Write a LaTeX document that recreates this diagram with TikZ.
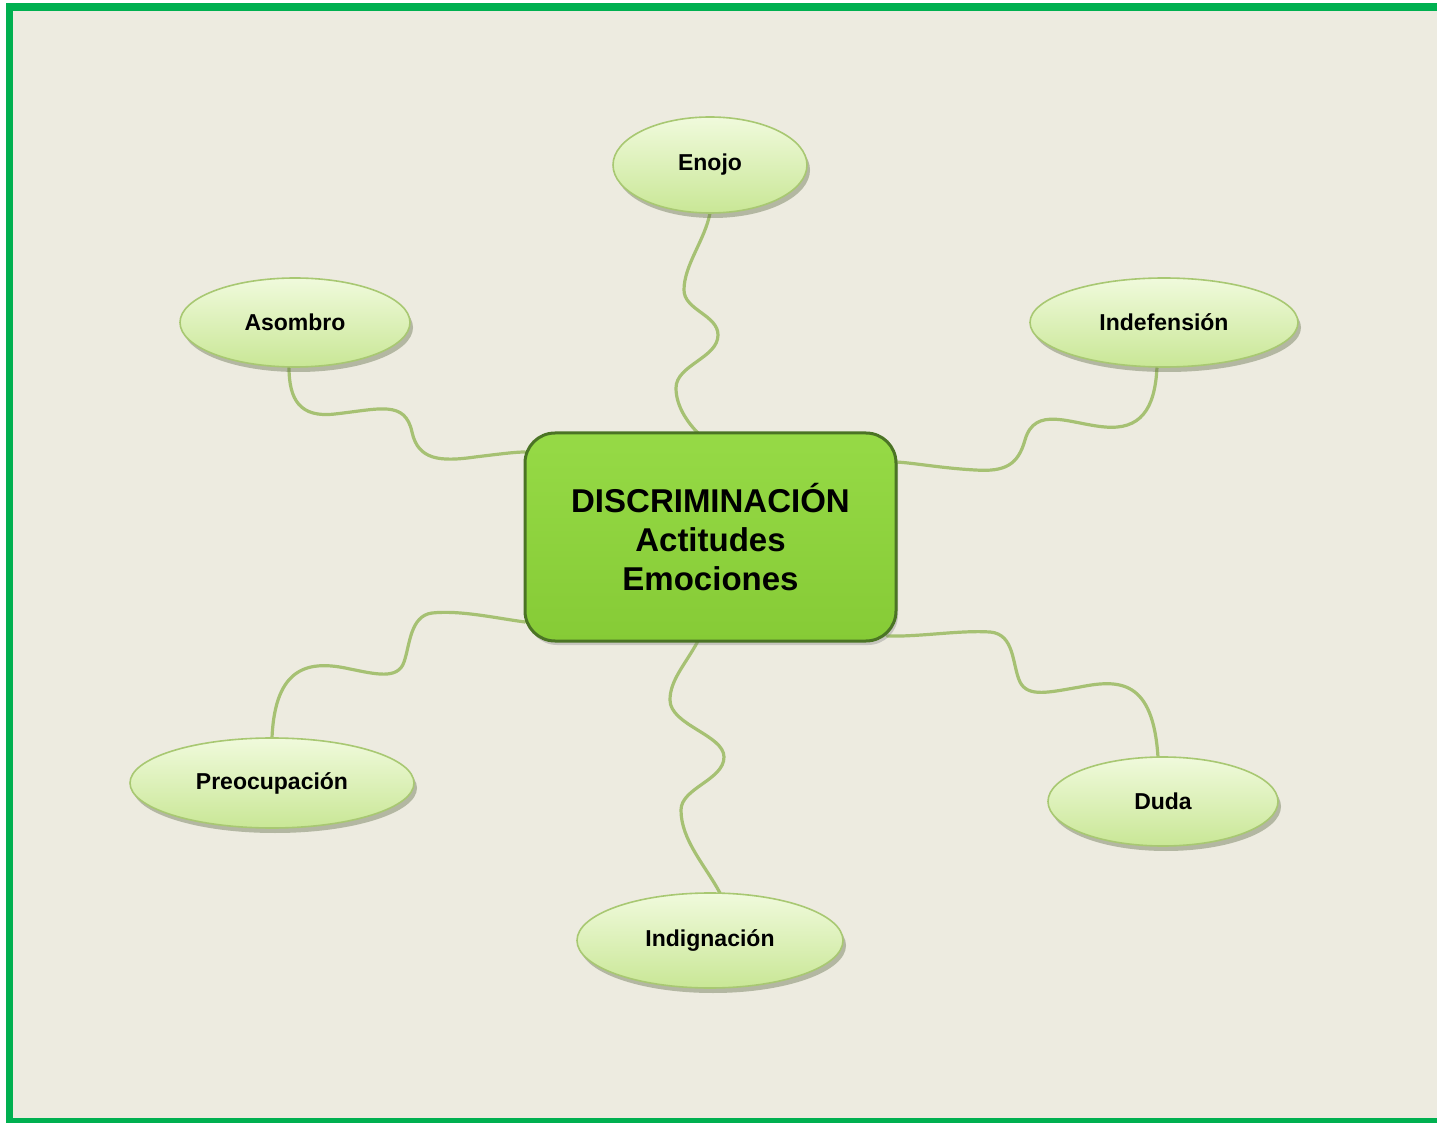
\documentclass[tikz,border=0pt]{standalone}
\usepackage{fontspec}
\setmainfont{Liberation Sans}
\usetikzlibrary{shapes.geometric,shadows}

\definecolor{framegreen}{HTML}{00B050}
\definecolor{paper}{HTML}{EDEBE0}
\definecolor{hubtop}{HTML}{96DA46}
\definecolor{hubbot}{HTML}{86CB36}
\definecolor{hubline}{HTML}{4B7425}
\definecolor{leafline}{HTML}{A8C872}
\definecolor{leaftop}{HTML}{F0FADC}
\definecolor{leafbot}{HTML}{C9E796}
\definecolor{wirecol}{HTML}{A6C173}
\definecolor{shadecol}{HTML}{5E6B45}

\pgfdeclarelayer{back}
\pgfdeclarelayer{wires}
\pgfsetlayers{back,wires,main}

\tikzset{
  hub/.style={rectangle, rounded corners=15pt, draw=hubline, line width=1.5pt,
    top color=hubtop, bottom color=hubbot, align=center, inner sep=0pt, outer sep=0pt,
    minimum width=185.5pt, minimum height=104pt,
    font=\fontsize{16.5}{19.5}\selectfont\bfseries,
    drop shadow={opacity=0.35, shadow xshift=1pt, shadow yshift=-2pt}},
  leaf/.style={ellipse, draw=leafline, line width=0.8pt,
    top color=leaftop, bottom color=leafbot, inner sep=0pt, outer sep=0pt,
    font=\fontsize{11.5}{13}\selectfont\bfseries,
    drop shadow={opacity=0.4, fill=shadecol, shadow xshift=1.5pt, shadow yshift=-2.5pt}},
  wire/.style={draw=wirecol, line width=1.6pt, line cap=round}
}

\begin{document}
\begin{tikzpicture}[x=0.5pt,y=-0.5pt]
\useasboundingbox (0,0) rectangle (1437,1123);

\begin{pgfonlayer}{back}
\fill[white] (0,0) rectangle (1437,1123);
\fill[framegreen] (6,3) rectangle (1437,1123);
\fill[paper] (13,11) rectangle (1437,1118);
\end{pgfonlayer}

% centre
\node[hub] (hub) at (710.5,537) {DISCRIMINACIÓN\\Actitudes\\Emociones};

% emotions
\node[leaf, minimum width=97pt, minimum height=48pt] (enojo) at (710,165) {Enojo};
\node[leaf, minimum width=115pt, minimum height=44.5pt] (asombro) at (295,322.5) {Asombro};
\node[leaf, minimum width=134pt, minimum height=44.5pt] (indef) at (1164,322.5) {Indefensión};
\node[leaf, minimum width=142pt, minimum height=45pt] (preoc) at (272,783) {Preocupación};
\node[leaf, minimum width=115pt, minimum height=44.5pt] (duda) at (1163,801.5) {Duda};
\node[leaf, minimum width=133pt, minimum height=47.5pt] (indig) at (710,940.5) {Indignación};

% wavy links
\begin{pgfonlayer}{wires}
\draw[wire] (enojo.south) .. controls (705,240) and (684,265) .. (684,290)
  .. controls (684,310) and (718,315) .. (718,335)
  .. controls (718,358) and (676,365) .. (676,388)
  .. controls (676,408) and (690,425) .. ([xshift=-6.25pt]hub.north);
\draw[wire] ([xshift=-3pt]asombro.south) .. controls (289,400) and (300,418) .. (335,414)
  .. controls (380,409) and (405,400) .. (412,432)
  .. controls (418,460) and (440,462) .. (475,457)
  .. controls (500,454) and (515,452) .. ([yshift=42.5pt]hub.west);
\draw[wire] ([xshift=-3.5pt]indef.south) .. controls (1155,410) and (1140,430) .. (1105,427)
  .. controls (1070,424) and (1035,405) .. (1025,440)
  .. controls (1018,465) and (1005,472) .. (975,470)
  .. controls (940,468) and (915,463) .. ([yshift=37.5pt]hub.east);
\draw[wire] ([yshift=-42.5pt]hub.west) .. controls (495,618) and (460,610) .. (432,613)
  .. controls (410,616) and (410,645) .. (404,662)
  .. controls (398,680) and (375,674) .. (350,669)
  .. controls (310,660) and (275,665) .. (preoc.north);
\draw[wire] ([xshift=-4.5pt,yshift=2.5pt]hub.south east) .. controls (920,637) and (960,630) .. (990,632)
  .. controls (1015,634) and (1012,665) .. (1020,682)
  .. controls (1028,698) and (1050,692) .. (1080,687)
  .. controls (1120,679) and (1153,680) .. ([xshift=-2.5pt]duda.north);
\draw[wire] ([xshift=-6.25pt]hub.south) .. controls (685,665) and (670,680) .. (670,700)
  .. controls (670,725) and (724,735) .. (724,757)
  .. controls (724,780) and (681,788) .. (681,810)
  .. controls (681,840) and (705,865) .. ([xshift=5pt]indig.north);
\end{pgfonlayer}
\end{tikzpicture}
\end{document}
